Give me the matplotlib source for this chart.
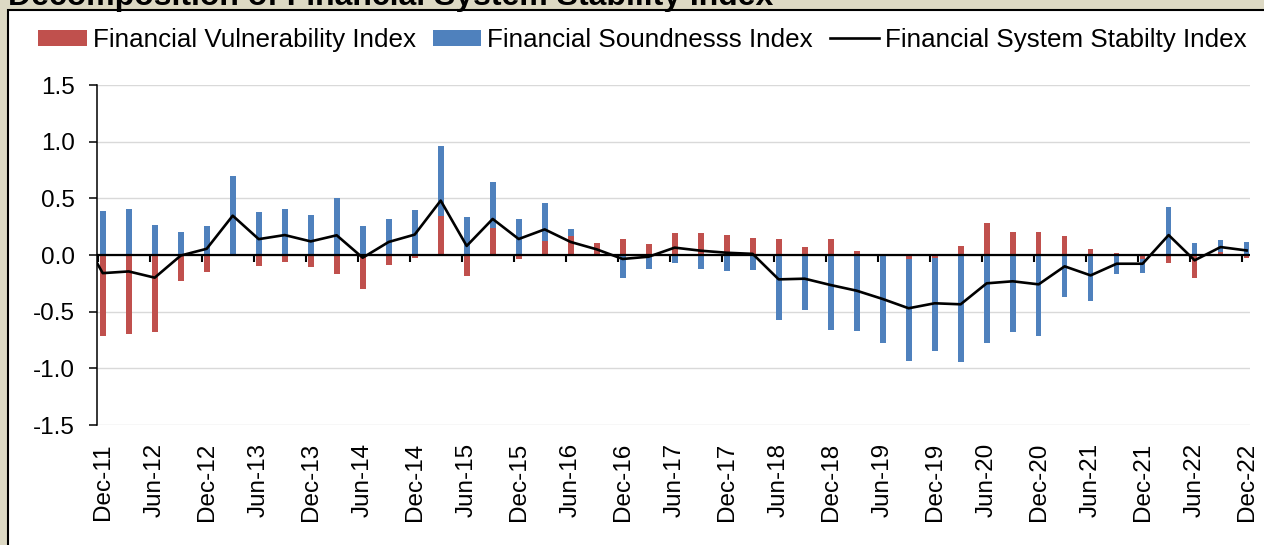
import numpy as np
import matplotlib
matplotlib.use("Agg")
import matplotlib.pyplot as plt
from matplotlib.patches import Rectangle

plt.rcParams['font.family'] = ['Liberation Sans', 'DejaVu Sans']
plt.rcParams['axes.unicode_minus'] = False

# quarterly data, Dec-11 .. Dec-22 (45 quarters)
fvi = [-0.715, -0.70, -0.675, -0.23, -0.147, -0.005, -0.10, -0.065, -0.11, -0.168,
       -0.30, -0.09, -0.03, 0.347, -0.185, 0.238, -0.035, 0.126, 0.168, 0.106,
       0.138, 0.094, 0.197, 0.197, 0.176, 0.147, 0.141, 0.074, 0.138, 0.038,
       0.005, -0.032, -0.026, 0.076, 0.28, 0.206, 0.20, 0.165, 0.05, 0.015,
       -0.035, -0.068, -0.206, 0.03, -0.026]
fsi = [0.385, 0.41, 0.265, 0.205, 0.26, 0.70, 0.38, 0.41, 0.35, 0.506,
       0.253, 0.315, 0.394, 0.618, 0.338, 0.406, 0.318, 0.33, 0.064, -0.01,
       -0.206, -0.12, -0.074, -0.126, -0.138, -0.135, -0.573, -0.488, -0.659, -0.668,
       -0.774, -0.906, -0.818, -0.941, -0.776, -0.68, -0.715, -0.368, -0.41, -0.17,
       -0.12, 0.42, 0.103, 0.105, 0.112]
# stability index, starting one quarter earlier (Sep-11, clipped by the axis)
fssi = [0.25,
        -0.16, -0.145, -0.20, -0.005, 0.055, 0.347, 0.14, 0.176, 0.12, 0.174,
        -0.024, 0.115, 0.18, 0.48, 0.08, 0.318, 0.141, 0.226, 0.115, 0.05,
        -0.035, -0.015, 0.065, 0.038, 0.02, 0.01, -0.215, -0.209, -0.265, -0.315,
        -0.388, -0.47, -0.426, -0.435, -0.25, -0.232, -0.259, -0.10, -0.18, -0.077,
        -0.077, 0.176, -0.047, 0.07, 0.04]
tick_labels = ['Dec-11', 'Jun-12', 'Dec-12', 'Jun-13', 'Dec-13', 'Jun-14', 'Dec-14',
               'Jun-15', 'Dec-15', 'Jun-16', 'Dec-16', 'Jun-17', 'Dec-17', 'Jun-18',
               'Dec-18', 'Jun-19', 'Dec-19', 'Jun-20', 'Dec-20', 'Jun-21', 'Dec-21',
               'Jun-22', 'Dec-22']

RED = '#C0504D'
BLUE = '#4F81BD'

fig = plt.figure(figsize=(12.64, 5.45), dpi=100)
fig.patch.set_facecolor('#DDD9C4')
fig.patches.append(Rectangle((8 / 1264, -0.05), 1.2, 1.05 - 10 / 545,
                             transform=fig.transFigure, facecolor='white',
                             edgecolor='black', lw=1.5, zorder=-10))
fig.text(8 / 1264, 1 - 5 / 545, 'Decomposition of Financial System Stability Index',
         fontsize=23, fontweight='bold', va='baseline', ha='left')

ax = fig.add_axes([97 / 1264, 1 - 425 / 545, 1153 / 1264, 340 / 545])
ax.set_facecolor('none')

x = np.arange(len(fvi))
fvi_a = np.array(fvi)
fsi_a = np.array(fsi)
bottom = np.where(np.sign(fsi_a) == np.sign(fvi_a), fvi_a, 0)
w = 0.22
b1 = ax.bar(x, fvi_a, width=w, color=RED, zorder=2)
b2 = ax.bar(x, fsi_a, width=w, bottom=bottom, color=BLUE, zorder=2)
ln, = ax.plot(np.arange(-1, len(fvi)), fssi, color='black', lw=1.9, zorder=4)

ax.set_xlim(-0.22, 44.13)
ax.set_ylim(-1.5, 1.5)
ax.set_yticks(np.arange(-1.5, 1.51, 0.5))
ax.set_yticklabels([f'{v:.1f}' for v in np.arange(-1.5, 1.51, 0.5)])
ax.yaxis.grid(True, color='#D9D9D9', lw=1.0)
ax.set_axisbelow(True)
for s in ['top', 'right', 'bottom']:
    ax.spines[s].set_visible(False)
ax.spines['left'].set_linewidth(1.1)
ax.tick_params(axis='y', direction='out', length=5.8, width=1.1, pad=10, labelsize=17.5)

pos = np.arange(0, len(fvi), 2)
ax.set_xticks(pos)
ax.set_xticklabels(tick_labels, rotation=90, fontsize=17.5)
ax.tick_params(axis='x', length=0, pad=13)

# horizontal axis line at zero with its small tick marks
ax.axhline(0, color='black', lw=1.6, zorder=3)
ax.vlines(pos - 0.17, -0.06, 0, color='black', lw=1.5, zorder=3)

fig.legend([b1, b2, ln],
           ['Financial Vulnerability Index', 'Financial Soundnesss Index',
            'Financial System Stabilty Index'],
           ncol=3, loc='center', bbox_to_anchor=(0.508, 1 - 40 / 545),
           frameon=False, fontsize=18.7, handlelength=1.87, handleheight=0.55,
           handletextpad=0.23, columnspacing=0.66, borderaxespad=0)

fig.savefig('out.png', dpi=100, facecolor=fig.get_facecolor())
